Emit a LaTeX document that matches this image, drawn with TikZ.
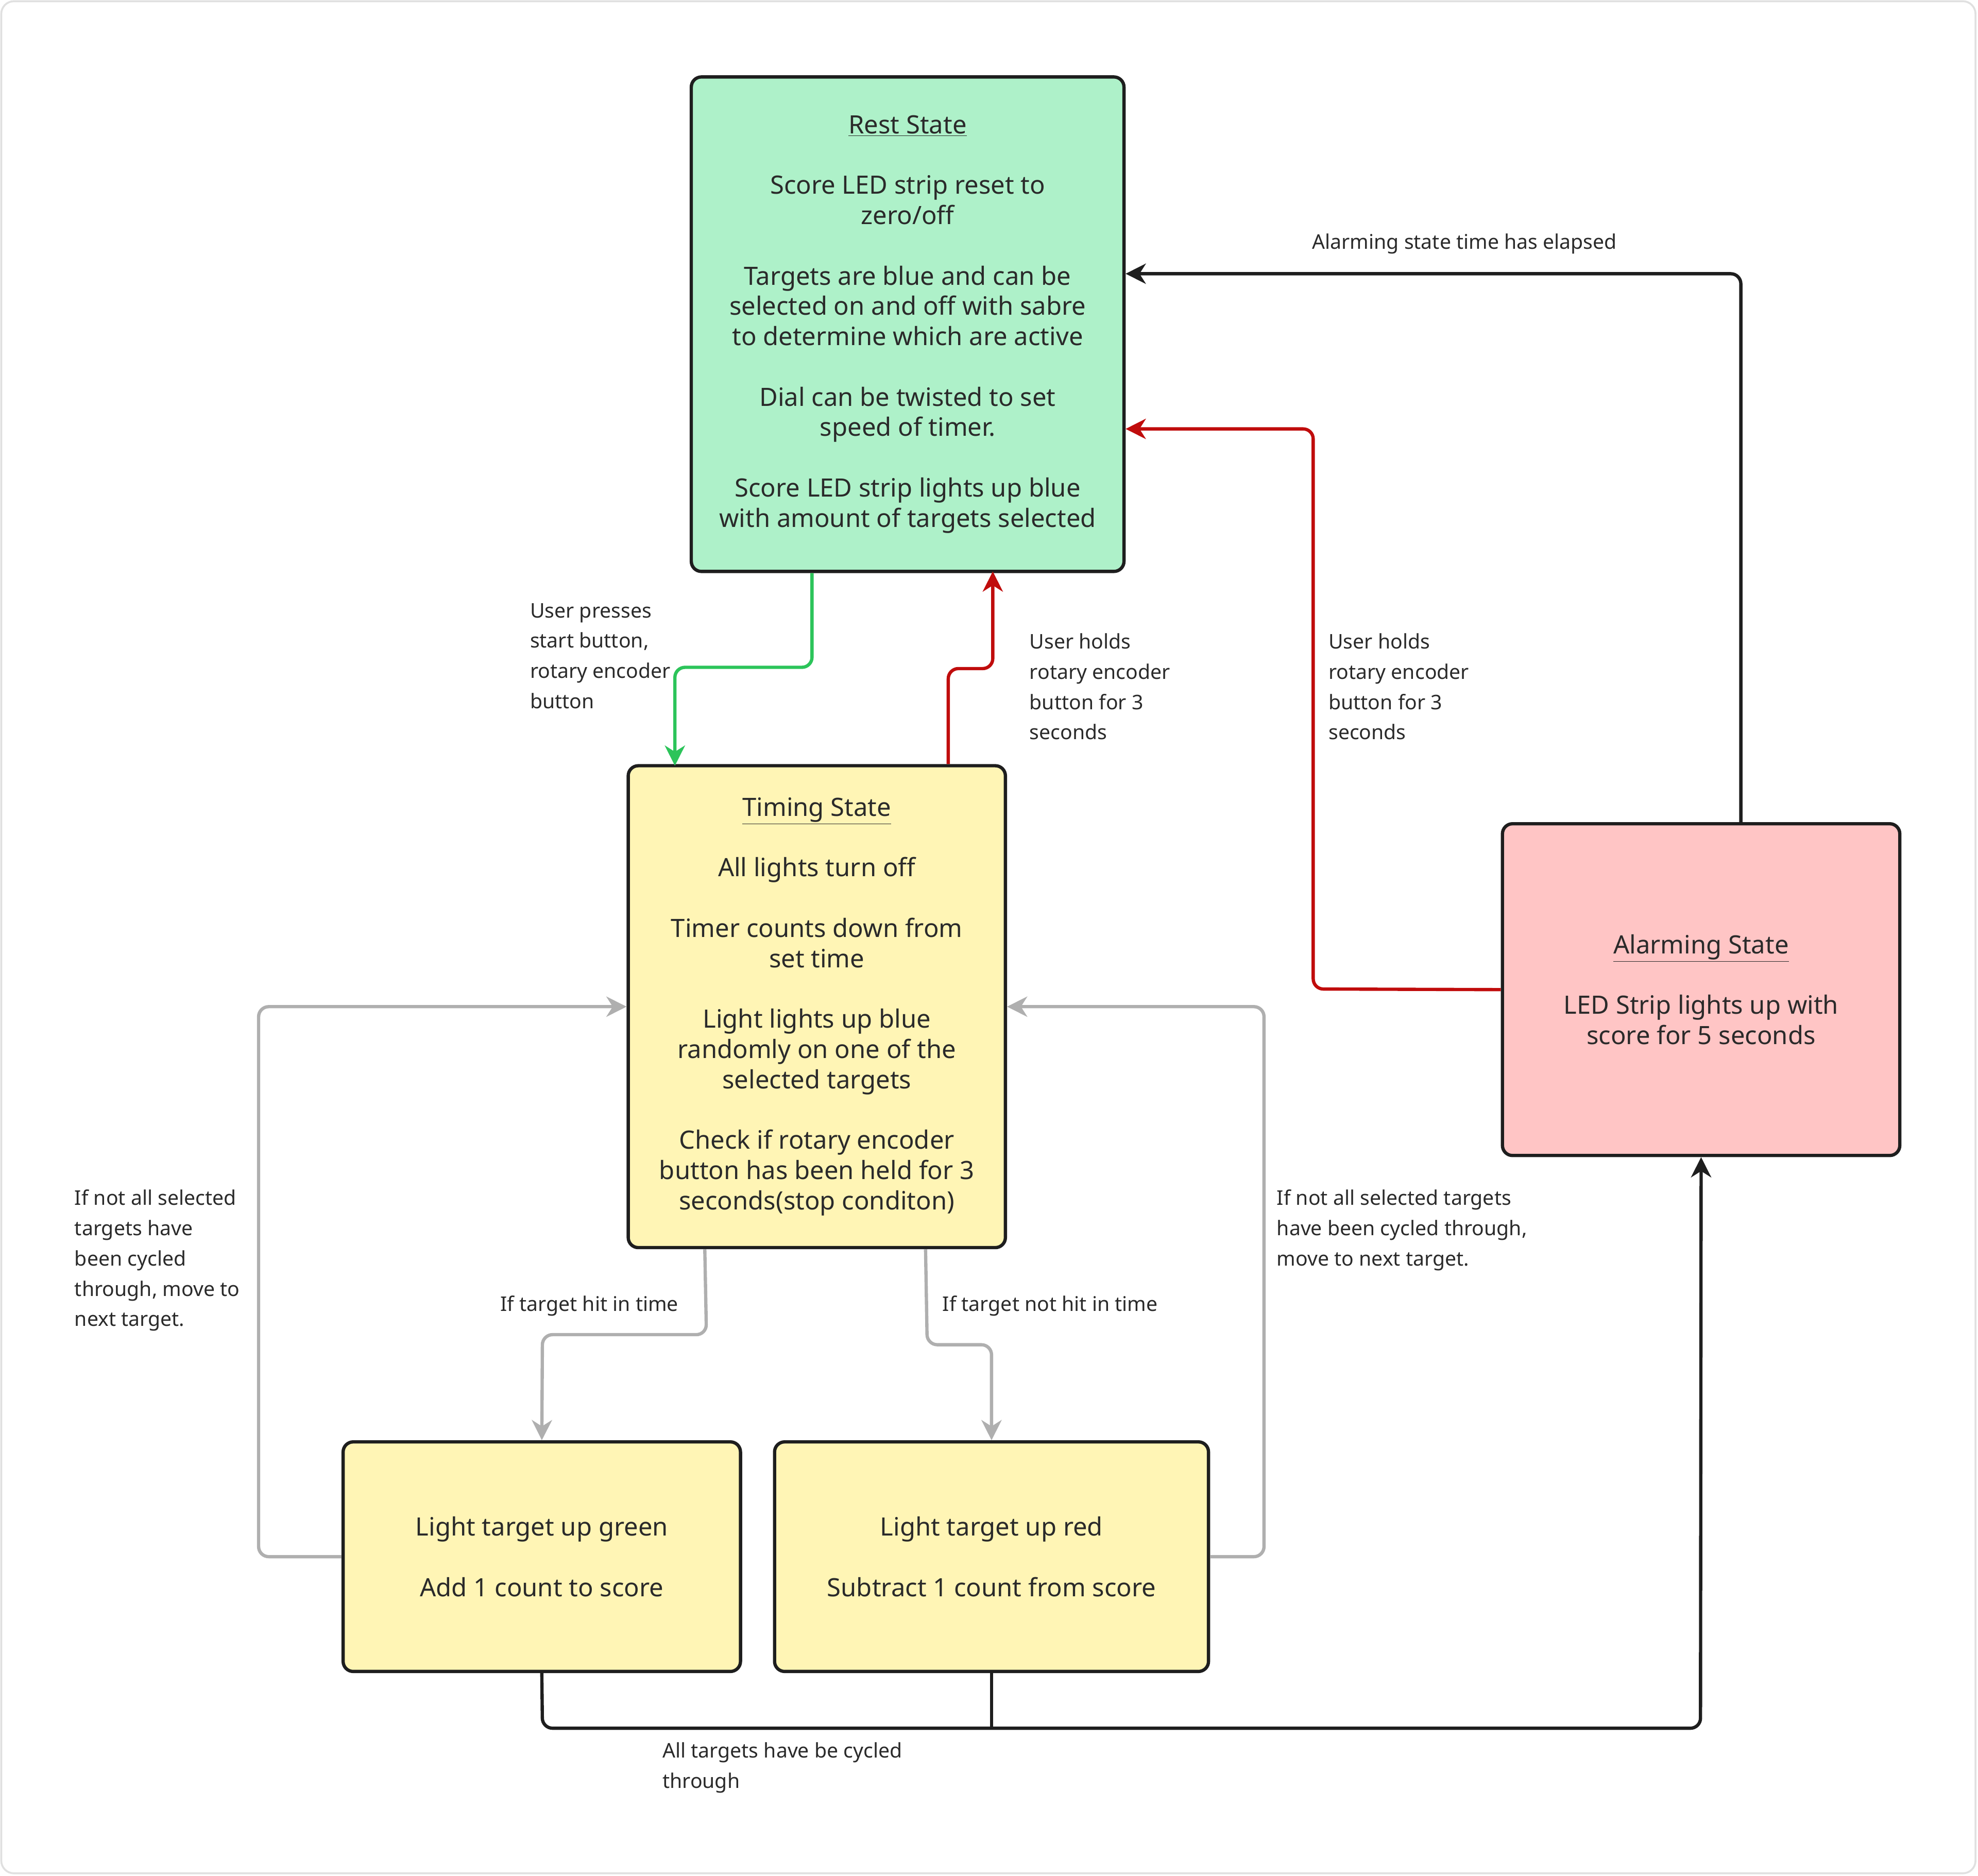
\documentclass[tikz,border=0pt]{standalone}
\usepackage{fontspec}
\setmainfont{Noto Sans}
\usetikzlibrary{arrows.meta,calc}
\definecolor{restc}{HTML}{AEF1C9}
\definecolor{timec}{HTML}{FFF5B5}
\definecolor{alarmc}{HTML}{FFC5C5}
\definecolor{txt}{HTML}{2A2A2A}
\definecolor{gc}{HTML}{2CC45A}
\definecolor{rc}{HTML}{C00C0C}
\definecolor{grc}{HTML}{AFAFAF}
\definecolor{bk}{HTML}{1E1E1E}
\tikzset{
 box/.style={draw=bk,line width=2.6pt,rounded corners=8pt,align=center,text=txt,
   font=\fontsize{20pt}{24pt}\selectfont,inner sep=0pt},
 lab/.style={text=txt,font=\fontsize{16pt}{24pt}\selectfont,align=left,inner sep=0pt,anchor=north west},
 con/.style={line width=2.6pt,rounded corners=8pt,-{Stealth[length=16pt,width=16pt,inset=5pt]}},
 nc/.style={line width=2.6pt,rounded corners=8pt}
}
\begin{document}
\begin{tikzpicture}[x=1pt,y=-1pt]
\useasboundingbox (0,0) rectangle (1568,1487);
\draw[draw=black!12,line width=1.5pt,rounded corners=10pt] (1,1) rectangle (1566,1485);
\node[box,fill=restc,minimum width=343pt,minimum height=392pt] (rest) at (719.5,257)
 {\underline{\textbf{Rest State}}\\[24pt]Score LED strip reset to\\zero/off\\[24pt]Targets are blue and can be\\selected on and off with sabre\\to determine which are active\\[24pt]Dial can be twisted to set\\speed of timer.\\[24pt]Score LED strip lights up blue\\with amount of targets selected};
\node[box,fill=timec,minimum width=299pt,minimum height=382pt] (timing) at (647.5,798)
 {\underline{\textbf{Timing State}}\\[24pt]All lights turn off\\[24pt]Timer counts down from\\set time\\[24pt]Light lights up blue\\randomly on one of the\\selected targets\\[24pt]Check if rotary encoder\\button has been held for 3\\seconds(stop conditon)};
\node[box,fill=alarmc,minimum width=315pt,minimum height=263pt] (alarm) at (1348.5,784.5)
 {\underline{\textbf{Alarming State}}\\[24pt]LED Strip lights up with\\score for 5 seconds};
\node[box,fill=timec,minimum width=315pt,minimum height=182pt] (hit) at (429.5,1234)
 {Light target up green\\[24pt]Add 1 count to score};
\node[box,fill=timec,minimum width=344pt,minimum height=182pt] (miss) at (786,1234)
 {Light target up red\\[24pt]Subtract 1 count from score};
% connectors
\draw[con,gc] (rest.south west) ++(97pt,0) coordinate (g0) -- (g0 |- 0,529) -- (535,529) -- (535,607) coordinate (g1);
\draw[con,rc] ([xshift=255pt]timing.north west) |- (787,530) -- (787,453);
\draw[con,rc] (alarm.west) -- (1041,784) -- (1041,340) -- (rest.east |- 0,340);
\draw[con,bk] (alarm.north -| 1380,0) -- (1380,217) -- (rest.east |- 0,217);
\draw[con,grc] ([xshift=62pt]timing.south west) -- (560,1058) -- (430,1058) -- (hit.north);
\draw[con,grc] ([xshift=237pt]timing.south west) -- (735,1066) -- (786,1066) -- (miss.north);
\draw[con,grc] (hit.west) -- (205,1234) -- (205,798) -- (timing.west);
\draw[con,grc] (miss.east) -- (1002,1234) -- (1002,798) -- (timing.east);
\draw[con,bk] (hit.south) -- (430,1370) -- (1348,1370) -- (alarm.south);
\draw[nc,bk] (miss.south) -- (786,1370);
% labels
\node[lab] (l1) at (420,478) {User presses\\start button,\\rotary encoder\\button};
\node[lab] (l2) at (816,502) {User holds\\rotary encoder\\button for 3\\seconds};
\node[lab] (l3) at (1053,502) {User holds\\rotary encoder\\button for 3\\seconds};
\node[lab] (l4) at (1040,185) {Alarming state time has elapsed};
\node[lab] (l5) at (59,943) {If not all selected\\targets have\\been cycled\\through, move to\\next target.};
\node[lab] (l6) at (1012,943) {If not all selected targets\\have been cycled through,\\move to next target.};
\node[lab,anchor=north east,font=\fontsize{16pt}{24pt}\selectfont\bfseries] (l7) at (538,1027) {If target hit in time};
\node[lab,font=\fontsize{16pt}{24pt}\selectfont\bfseries] (l8) at (747,1027) {If target not hit in time};
\node[lab] (l9) at (525,1381) {All targets have be cycled\\through};
\end{tikzpicture}
\end{document}
